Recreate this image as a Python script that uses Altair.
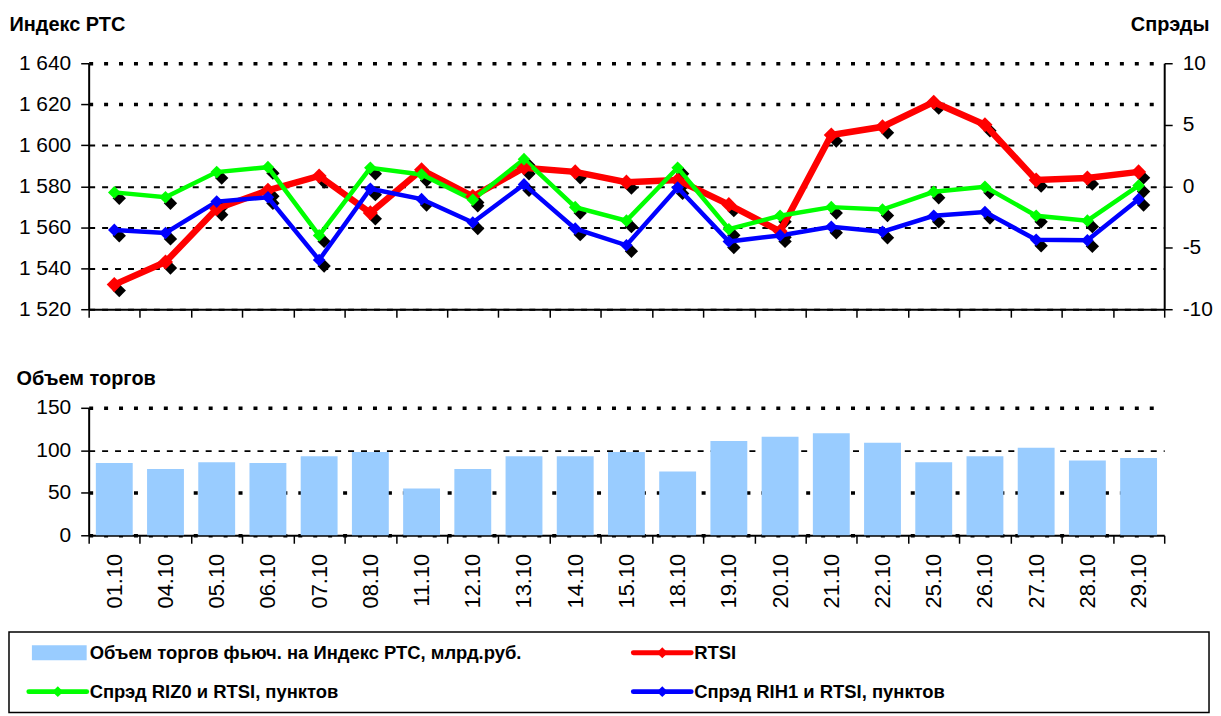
import altair as alt
import pandas as pd

dates = ["01.10", "04.10", "05.10", "06.10", "07.10", "08.10", "11.10", "12.10",
         "13.10", "14.10", "15.10", "18.10", "19.10", "20.10", "21.10", "22.10",
         "25.10", "26.10", "27.10", "28.10", "29.10"]
volume = [85, 78, 86, 85, 93, 98, 55, 78, 93, 93, 98, 75, 111, 116, 120, 109,
          86, 93, 103, 88, 91]
rtsi = [1532, 1543, 1569, 1578, 1585, 1567, 1588, 1575, 1589, 1587, 1582, 1583,
        1571, 1558, 1605, 1609, 1621, 1610, 1583, 1584, 1587]
riz0 = [-0.5, -0.9, 1.15, 1.55, -4.0, 1.5, 0.95, -1.1, 2.2, -1.7, -2.8, 1.5,
        -3.5, -2.4, -1.7, -1.9, -0.45, -0.05, -2.4, -2.8, 0.05]
rih1 = [-3.55, -3.8, -1.25, -0.9, -6.0, -0.2, -1.05, -2.95, 0.15, -3.45, -4.8,
        -0.1, -4.5, -4.0, -3.3, -3.7, -2.4, -2.1, -4.35, -4.4, -1.05]

series_names = ["Объем торгов фьюч. на Индекс РТС, млрд.руб.", "RTSI",
                "Спрэд RIZ0 и RTSI, пунктов", "Спрэд RIH1 и RTSI, пунктов"]
series_colors = ["#99CCFF", "#FF0000", "#00FF00", "#0000FF"]

left_ticks = [1520, 1540, 1560, 1580, 1600, 1620, 1640]
right_ticks = [-10, -5, 0, 5, 10]
vol_ticks = [0, 50, 100, 150]

FONT = "Liberation Sans"

rtsi_df = pd.DataFrame({"date": dates, "value": rtsi, "series": series_names[1]})
spread_df = pd.concat([
    pd.DataFrame({"date": dates, "value": riz0, "series": series_names[2]}),
    pd.DataFrame({"date": dates, "value": rih1, "series": series_names[3]}),
], ignore_index=True)
vol_df = pd.DataFrame({"date": dates, "value": volume, "series": series_names[0]})
leg_df = pd.DataFrame({
    "label": series_names,
    "row": [i // 2 for i in range(len(series_names))],
    "col": [i % 2 for i in range(len(series_names))],
})

cscale = alt.Scale(domain=series_names, range=series_colors)
color = alt.Color("series:N", scale=cscale, legend=None)

def band():
    return alt.Scale(type="band", paddingInner=0, paddingOuter=0)

axis_common = dict(tickColor="black", tickWidth=1.5, tickSize=8,
                   domainColor="black", domainWidth=2,
                   labelColor="black", labelFont=FONT, titleFont=FONT,
                   titleColor="black")

x_top = alt.X("date:N", sort=dates, bandPosition=0.5, scale=band(),
              axis=alt.Axis(title=None, labels=False, tickBand="extent",
                            grid=False, **axis_common))

left_scale = alt.Scale(domain=[1520, 1640], nice=False, zero=False)
right_scale = alt.Scale(domain=[-10, 10], nice=False, zero=False)

y_left = alt.Y("value:Q", scale=left_scale, axis=alt.Axis(
    values=left_ticks, title="Индекс РТС", titleAngle=0, titleAlign="left",
    titleBaseline="middle", titleX=-80, titleY=-39, titleFontSize=20,
    titleFontWeight="bold",
    labelExpr="replace(format(datum.value, ','), ',', ' ')",
    labelFontSize=21, labelPadding=10, grid=True, gridColor="black",
    gridDash={"condition": {"test": "datum.value >= 1620", "value": [4, 11]},
              "value": [6, 7]},
    gridWidth={"condition": {"test": "datum.value >= 1620", "value": 3.5},
               "value": 2},
    **axis_common))
y_left_na = alt.Y("value:Q", scale=left_scale, axis=None)
y_right = alt.Y("value:Q", scale=right_scale, axis=alt.Axis(
    orient="right", values=right_ticks, title="Спрэды", titleAngle=0,
    titleAlign="right", titleBaseline="middle", titleX=45, titleY=-39,
    titleFontSize=20, titleFontWeight="bold", labelExpr="datum.value + ''",
    labelFontSize=21, labelPadding=10, grid=False, **axis_common))
y_right_na = alt.Y("value:Q", scale=right_scale, axis=None)

shadow = dict(shape="diamond", filled=True, color="black", size=180,
              opacity=1, xOffset=5, yOffset=6)

shadow_red = alt.Chart(rtsi_df).mark_point(**shadow).encode(x=x_top, y=y_left)
shadow_spr = alt.Chart(spread_df).mark_point(**shadow).encode(
    x=x_top, y=y_right, detail="series:N")
line_red = alt.Chart(rtsi_df).mark_line(strokeWidth=6.5).encode(
    x=x_top, y=y_left_na, color=color)
line_spr = alt.Chart(spread_df).mark_line(strokeWidth=4.5).encode(
    x=x_top, y=y_right_na, color=color)
pts_red = alt.Chart(rtsi_df).mark_point(
    shape="diamond", filled=True, size=230, opacity=1).encode(
    x=x_top, y=y_left_na, color=color)
pts_spr = alt.Chart(spread_df).mark_point(
    shape="diamond", filled=True, size=160, opacity=1).encode(
    x=x_top, y=y_right_na, color=color)

top = alt.layer(shadow_red, shadow_spr, line_red, line_spr, pts_red, pts_spr
                ).resolve_scale(y="independent").properties(width=1080, height=247)

x_bot = alt.X("date:N", sort=dates, scale=band(), axis=alt.Axis(
    title=None, labelAngle=270, labelAlign="right", labelBaseline="middle",
    labelFontSize=22, labelPadding=10, tickBand="extent", grid=False,
    **axis_common))
y_bot = alt.Y("value:Q", scale=alt.Scale(domain=[0, 150], nice=False),
              axis=alt.Axis(
    values=vol_ticks, title="Объем торгов", titleAngle=0, titleAlign="left",
    titleBaseline="middle", titleX=-73, titleY=-29, titleFontSize=20,
    titleFontWeight="bold", labelFontSize=21, labelPadding=10, grid=True,
    gridColor="black",
    gridDash={"condition": {"test": "datum.value == 100", "value": [6, 7]},
              "value": [4, 11]},
    gridWidth={"condition": {"test": "datum.value == 100", "value": 2},
               "value": 3.5},
    **axis_common))

bottom = alt.Chart(vol_df).mark_bar(width=alt.RelativeBandSize(0.72)).encode(
    x=x_bot, y=y_bot, color=color).properties(width=1080, height=128)

# legend panel: its view starts at the plot's left edge; the frame reaches left
x_leg = alt.X("col:O", scale=alt.Scale(type="point", range=[-60, 547], padding=0),
              axis=None)
y_leg = alt.Y("row:O", scale=alt.Scale(type="point", range=[21, 60], padding=0),
              axis=None)
leg_color = alt.Color("label:N", scale=cscale, legend=None)

frame = alt.Chart(leg_df).transform_filter(
    (alt.datum.row == 0) & (alt.datum.col == 0)).mark_rect(
    fillOpacity=0, stroke="black", strokeWidth=1.5).encode(
    x=alt.value(-80), x2=alt.value(1125), y=alt.value(0), y2=alt.value(81))
sym_bar = alt.Chart(leg_df).transform_filter(
    alt.datum.label == series_names[0]).mark_rule(
    strokeWidth=15, strokeCap="butt", xOffset=3, x2Offset=58).encode(
    x=x_leg, x2=alt.X2("col"), y=y_leg, color=leg_color)
sym_line = alt.Chart(leg_df).transform_filter(
    alt.datum.label != series_names[0]).mark_rule(
    strokeWidth=5, strokeCap="round", x2Offset=58).encode(
    x=x_leg, x2=alt.X2("col"), y=y_leg, color=leg_color)
sym_pt = alt.Chart(leg_df).transform_filter(
    alt.datum.label != series_names[0]).mark_point(
    shape="diamond", filled=True, size=120, opacity=1, xOffset=29).encode(
    x=x_leg, y=y_leg, color=leg_color)
leg_txt = alt.Chart(leg_df).mark_text(
    align="left", baseline="middle", dx=61, fontSize=18.5, fontWeight="bold",
    color="black", font=FONT).encode(x=x_leg, y=y_leg, text="label:N")

legend = alt.layer(frame, sym_bar, sym_line, sym_pt, leg_txt).properties(
    width=1125, height=81)

chart = alt.vconcat(
    alt.vconcat(top, bottom, spacing=50),
    legend, spacing=22,
).properties(
    padding={"left": 0, "top": 5, "right": 0, "bottom": 0}
).configure(font=FONT).configure_view(strokeWidth=0)

chart.save("out.html", embed_options={"renderer": "svg", "actions": False})
